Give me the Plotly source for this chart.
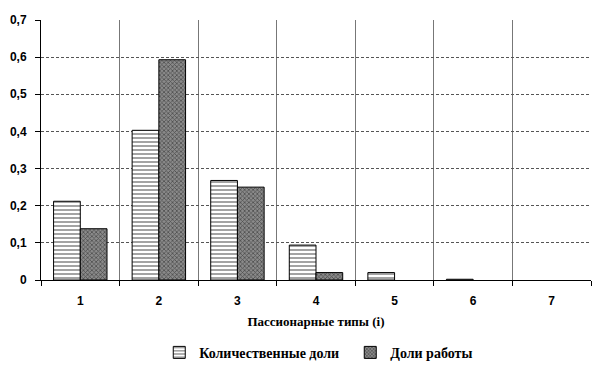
import plotly.graph_objects as go

categories = ["1", "2", "3", "4", "5", "6", "7"]
quantity_shares = [0.212, 0.403, 0.268, 0.094, 0.020, 0.002, 0.0]
work_shares = [0.138, 0.593, 0.250, 0.020, 0.0, 0.0, 0.0]
y_ticks = [0, 0.1, 0.2, 0.3, 0.4, 0.5, 0.6, 0.7]
y_tick_labels = ["0", "0,1", "0,2", "0,3", "0,4", "0,5", "0,6", "0,7"]
series_names = ["Количественные доли", "Доли работы"]

x_pos = list(range(1, len(categories) + 1))
boundaries = [i + 0.5 for i in range(0, len(categories) + 1)]


def outline_widths(values):
    return [1 if v > 0 else 0 for v in values]


fig = go.Figure()
fig.add_trace(go.Bar(
    x=x_pos, y=quantity_shares, name="<b>" + series_names[0] + "</b>",
    marker=dict(color="white", line=dict(color="black", width=outline_widths(quantity_shares)),
                pattern=dict(shape="-", fgcolor="#333", bgcolor="white", size=4, solidity=0.45)),
))
fig.add_trace(go.Bar(
    x=x_pos, y=work_shares, name="<b>" + series_names[1] + "</b>",
    marker=dict(color="white", line=dict(color="black", width=outline_widths(work_shares)),
                pattern=dict(shape="x", fgcolor="#111", bgcolor="#8a8a8a", size=3, solidity=0.45)),
))

# the page body has an 8px default margin, so the figure is 8px smaller
fig.update_layout(
    width=592, height=366,
    margin=dict(l=33, r=9, t=12, b=94, autoexpand=False),
    paper_bgcolor="white", plot_bgcolor="white",
    barmode="group", bargap=0.32, bargroupgap=0,
    showlegend=True,
    legend=dict(orientation="h", x=0.215, xanchor="left", y=-0.28, yanchor="middle",
                font=dict(family="Liberation Serif", size=14, color="black"),
                itemwidth=30, entrywidth=146),
    xaxis=dict(
        automargin=False,
        range=[0.5, 7.5], tickmode="array", tickvals=x_pos,
        ticktext=["<b>" + c + "</b>" for c in categories],
        ticks="outside", ticklen=10, tickcolor="rgba(0,0,0,0)",
        showgrid=False, showline=True, linecolor="black", linewidth=1,
        tickfont=dict(family="Liberation Sans", size=12, color="black"),
        minor=dict(tickmode="array", tickvals=boundaries, ticks="outside", ticklen=5,
                   tickcolor="black", showgrid=True, gridcolor="#777", gridwidth=1),
        title=dict(text="<b>Пассионарные типы (i)</b>", standoff=9,
                   font=dict(family="Liberation Serif", size=13, color="black")),
        zeroline=False,
    ),
    yaxis=dict(
        automargin=False,
        range=[0, 0.7], tickmode="array", tickvals=y_ticks,
        ticktext=["<b>" + t + "</b>" for t in y_tick_labels],
        ticks="outside", ticklen=5, tickcolor="black",
        ticklabelstandoff=6,
        showline=True, linecolor="black", linewidth=1,
        showgrid=True, gridcolor="#555", gridwidth=1, griddash="3px,2px",
        tickfont=dict(family="Liberation Sans", size=12, color="black"),
        zeroline=False,
    ),
)

fig.write_html("out.html")
